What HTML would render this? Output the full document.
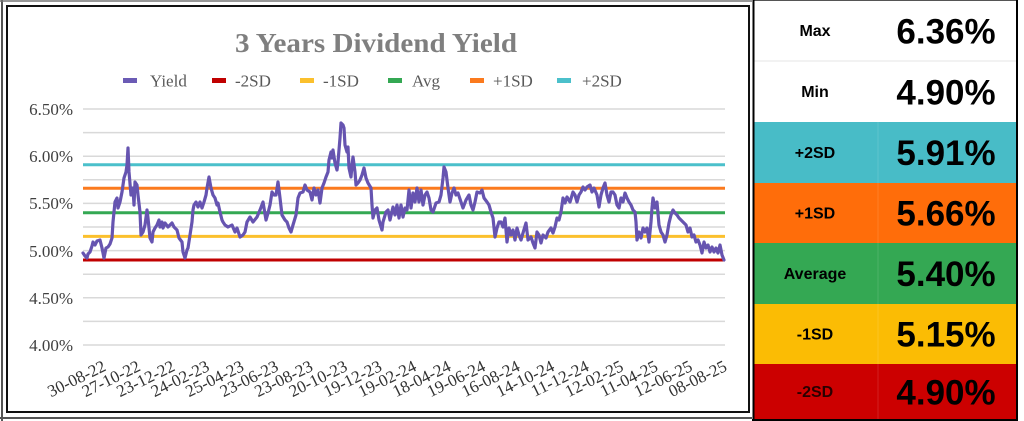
<!DOCTYPE html>
<html>
<head>
<meta charset="utf-8">
<style>
  html,body{margin:0;padding:0;background:#fff;}
  body{width:1024px;height:421px;overflow:hidden;position:relative;}
  svg{position:absolute;left:0;top:0;}
</style>
</head>
<body>
<svg width="1024" height="421" viewBox="0 0 1024 421" xmlns="http://www.w3.org/2000/svg">
  <rect x="0" y="0" width="1024" height="421" fill="#fff"/>
  <!-- outer sheet lines -->
  <line x1="2" y1="0" x2="2" y2="421" stroke="#555" stroke-width="2"/>
  <line x1="0" y1="1" x2="752" y2="1" stroke="#777" stroke-width="1.5"/>
  <line x1="0" y1="418" x2="752" y2="418" stroke="#555" stroke-width="2"/>
  <!-- chart frame -->
  <rect x="7" y="6" width="742" height="406" fill="#fff" stroke="#111" stroke-width="2"/>

  <!-- title -->
  <text x="376" y="52" text-anchor="middle" font-family="Liberation Serif, serif" font-weight="bold" font-size="27" fill="#7f7f7f" textLength="282" lengthAdjust="spacingAndGlyphs">3 Years Dividend Yield</text>

  <!-- legend -->
  <g font-family="Liberation Serif, serif" font-size="17" fill="#595959">
    <rect x="123" y="78" width="14" height="5" fill="#6b5bb5"/><text x="150" y="86.5">Yield</text>
    <rect x="212" y="78" width="14" height="5" fill="#c00000"/><text x="235" y="86.5">-2SD</text>
    <rect x="300" y="78" width="14" height="5" fill="#fbc02d"/><text x="323" y="86.5">-1SD</text>
    <rect x="388" y="78" width="14" height="5" fill="#34a853"/><text x="412" y="86.5">Avg</text>
    <rect x="470" y="78" width="14" height="5" fill="#fb7a1e"/><text x="493" y="86.5">+1SD</text>
    <rect x="557" y="78" width="14" height="5" fill="#4bc0cb"/><text x="582" y="86.5">+2SD</text>
  </g>

  <!-- gridlines -->
  <g stroke="#d9d9d9" stroke-width="1.5">
    <line x1="83" y1="109" x2="725" y2="109"/>
    <line x1="83" y1="132.6" x2="725" y2="132.6"/>
    <line x1="83" y1="156.2" x2="725" y2="156.2"/>
    <line x1="83" y1="179.8" x2="725" y2="179.8"/>
    <line x1="83" y1="203.4" x2="725" y2="203.4"/>
    <line x1="83" y1="227" x2="725" y2="227"/>
    <line x1="83" y1="250.6" x2="725" y2="250.6"/>
    <line x1="83" y1="274.2" x2="725" y2="274.2"/>
    <line x1="83" y1="297.8" x2="725" y2="297.8"/>
    <line x1="83" y1="321.4" x2="725" y2="321.4"/>
    <line x1="83" y1="345" x2="725" y2="345"/>
  </g>

  <!-- y labels -->
  <g font-family="Liberation Serif, serif" font-size="17" fill="#404040" text-anchor="end">
    <text x="73" y="115">6.50%</text>
    <text x="73" y="162">6.00%</text>
    <text x="73" y="209">5.50%</text>
    <text x="73" y="257">5.00%</text>
    <text x="73" y="304">4.50%</text>
    <text x="73" y="351">4.00%</text>
  </g>

  <!-- band lines -->
  <g stroke-width="3">
    <line x1="83" y1="164.7" x2="725" y2="164.7" stroke="#4bc0cb"/>
    <line x1="83" y1="188.3" x2="725" y2="188.3" stroke="#fb7a1e"/>
    <line x1="83" y1="212.8" x2="725" y2="212.8" stroke="#34a853"/>
    <line x1="83" y1="236.4" x2="725" y2="236.4" stroke="#fbc02d"/>
    <line x1="83" y1="260" x2="725" y2="260" stroke="#c00000"/>
  </g>

  <!-- yield series -->
  <polyline fill="none" stroke="#6654b0" stroke-width="3.2" stroke-linejoin="round" stroke-linecap="round" points="
83,253 85,256 87,258 88,254 90,252 92,246 93,242 95,245 97,241 100,240 102,248 104,258 106,248 108,247 110,244 112,238 113,222 115,202 117,198 118,208 120,202 122,192 124,178 126,172 127,165 128,148 129,172 131,195 133,188 134,205 135,182 137,185 138,195 140,212 141,235 143,232 145,225 147,210 148,218 150,238 152,242 153,232 155,228 157,225 159,220 160,227 162,222 163,228 165,223 168,227 172,223 174,227 177,230 179,238 182,242 183,252 185,258 187,250 188,248 190,235 192,222 193,210 194,205 196,202 198,207 200,202 202,208 204,202 206,195 207,188 209,177 211,188 213,195 215,198 217,205 218,203 220,212 222,220 223,222 225,225 228,227 232,225 235,232 237,228 240,237 243,235 245,232 247,222 250,217
253,222 257,217 260,210 263,202 266,220 268,213 270,205 272,192 274,195 276,195 278,182 280,198 282,215 285,220 287,222 289,228 291,232 293,225 296,215 298,198 300,193 303,192 305,185 307,190 310,192 312,200 314,188 316,195 318,190 320,203 322,188 324,183 326,177 328,172 329,160 331,152 332,158 333,150 335,163 337,170 338,162 340,138 341,123 343,125 344,128 345,145 347,152 348,147 349,168 351,177 352,165 353,157 355,172 356,185 358,183 360,180 362,175 364,168 366,178 368,183 371,188 372,205 373,218 375,210 377,208 379,220 382,230 383,222 386,212 388,210 390,220 393,207 395,215 397,205 399,218 401,205 403,217 405,208 407,210 409,190 411,208 413,193 415,202 417,188 419,202 421,190 423,205 425,195 427,192 429,198 431,210 433,212 436,203 439,202 441,195 443,178 444,167 446,172 448,188 450,202 452,193 454,188 456,195 458,193 461,202 463,208 466,200 469,195 471,205 473,210 475,202 477,192 480,193 482,190 484,198 487,202 489,205 491,212 493,218 495,237 497,228 499,222
501,222 503,227 505,218 507,242 509,228 511,235 513,230 515,240 517,228 519,235 521,240 523,233 526,223 528,240 531,237 533,243 535,248 537,232 539,235 541,243 543,235 546,238 548,232 551,228 553,233 555,227 557,218 559,220 561,212 563,198 565,203 567,197 570,202 573,192 575,195 577,202 579,195 581,192 583,187 585,190 587,187 590,185 592,192 594,188 597,195 599,207 601,195 603,188 605,183 607,195 609,202 611,192 613,192 615,195 617,205 619,208 621,198 623,202 625,193 627,198 629,202 631,205 633,210 635,212 636,222 637,240 639,232 641,238 643,228 645,232 647,228 649,242 651,222 652,208 653,198 655,208 657,202 659,225 661,232 663,235 665,242 667,235 669,223 671,215 673,210 675,213 677,215 679,218 681,220 683,222 686,225 688,232 690,228 692,237 694,235 696,242 698,240 700,245 702,253 704,242 706,248 708,245 710,252 712,247 714,252 716,248 718,253 720,245 722,255 724,260"/>

  <!-- x labels -->
  <g font-family="Liberation Serif, serif" font-size="17" fill="#333" text-anchor="end">
    <text transform="translate(107,370) rotate(-26)">30-08-22</text>
    <text transform="translate(141.5,370) rotate(-26)">27-10-22</text>
    <text transform="translate(176,370) rotate(-26)">23-12-22</text>
    <text transform="translate(210.5,370) rotate(-26)">24-02-23</text>
    <text transform="translate(245,370) rotate(-26)">25-04-23</text>
    <text transform="translate(279.5,370) rotate(-26)">23-06-23</text>
    <text transform="translate(314,370) rotate(-26)">23-08-23</text>
    <text transform="translate(348.5,370) rotate(-26)">20-10-23</text>
    <text transform="translate(383,370) rotate(-26)">19-12-23</text>
    <text transform="translate(417.5,370) rotate(-26)">19-02-24</text>
    <text transform="translate(452,370) rotate(-26)">18-04-24</text>
    <text transform="translate(486.5,370) rotate(-26)">19-06-24</text>
    <text transform="translate(521,370) rotate(-26)">16-08-24</text>
    <text transform="translate(555.5,370) rotate(-26)">14-10-24</text>
    <text transform="translate(590,370) rotate(-26)">11-12-24</text>
    <text transform="translate(624.5,370) rotate(-26)">12-02-25</text>
    <text transform="translate(659,370) rotate(-26)">11-04-25</text>
    <text transform="translate(693.5,370) rotate(-26)">12-06-25</text>
    <text transform="translate(728,370) rotate(-26)">08-08-25</text>
  </g>

  <!-- right table -->
  <rect x="753" y="0" width="264" height="122" fill="#ffffff"/>
  <rect x="753" y="122" width="264" height="61" fill="#48bcc7"/>
  <rect x="753" y="183" width="264" height="60" fill="#ff6d0a"/>
  <rect x="753" y="243" width="264" height="61" fill="#34a853"/>
  <rect x="753" y="304" width="264" height="60" fill="#fbbc04"/>
  <rect x="753" y="364" width="264" height="55" fill="#cc0000"/>
  <line x1="753" y1="61" x2="1017" y2="61" stroke="#e6e6e6" stroke-width="1"/>
  <line x1="753" y1="0.5" x2="1017" y2="0.5" stroke="#555" stroke-width="1"/>
  <line x1="878" y1="122" x2="878" y2="419" stroke="rgba(255,255,255,0.12)" stroke-width="1"/>
  <line x1="753.5" y1="0" x2="753.5" y2="421" stroke="#000" stroke-width="2"/>
  <line x1="1017" y1="0" x2="1017" y2="421" stroke="#000" stroke-width="2"/>
  <line x1="752" y1="420" x2="1018" y2="420" stroke="#000" stroke-width="2"/>

  <g font-family="Liberation Sans, Arial, sans-serif" font-weight="bold" text-anchor="middle" fill="#000">
    <g font-size="16">
      <text x="815" y="36">Max</text>
      <text x="815" y="97">Min</text>
      <text x="815" y="158">+2SD</text>
      <text x="815" y="218.5">+1SD</text>
      <text x="815" y="279">Average</text>
      <text x="815" y="339.5">-1SD</text>
      <text x="815" y="397" fill="#2a0000">-2SD</text>
    </g>
    <g font-size="35">
      <text x="946" y="43.5">6.36%</text>
      <text x="946" y="104.5">4.90%</text>
      <text x="946" y="165">5.91%</text>
      <text x="946" y="225.5">5.66%</text>
      <text x="946" y="286">5.40%</text>
      <text x="946" y="346.5">5.15%</text>
      <text x="946" y="404.5">4.90%</text>
    </g>
  </g>
</svg>
</body>
</html>
